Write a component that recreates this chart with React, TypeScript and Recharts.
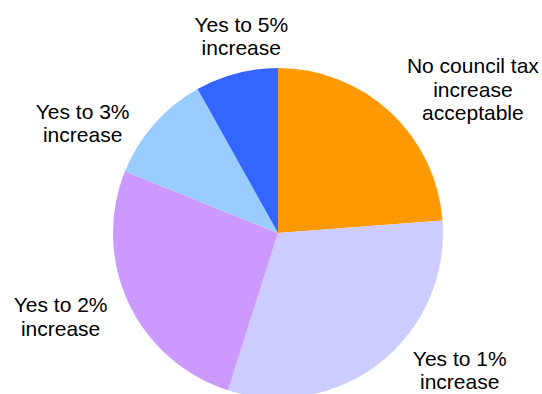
import React from 'react';
import { PieChart, Pie, Cell } from 'recharts';

const categories = [
  'No council tax increase acceptable',
  'Yes to 1% increase',
  'Yes to 2% increase',
  'Yes to 3% increase',
  'Yes to 5% increase',
];
const shares = [23.8, 31.1, 26.2, 10.8, 8.1];
const labelLines = [
  ['No council tax', 'increase', 'acceptable'],
  ['Yes to 1%', 'increase'],
  ['Yes to 2%', 'increase'],
  ['Yes to 3%', 'increase'],
  ['Yes to 5%', 'increase'],
];

const colors = ['#FF9900', '#CCCCFF', '#CC99FF', '#99CCFF', '#3366FF'];
// label placement: angle shift (deg, clockwise) and gap beyond the rim
const labelShift = [10.8, -14.5, 4.1, -12.1, 4];
const labelGap = [77, 63, 68, 59, 35];
const LINE_H = 23.3;

const data = categories.map((name, i) => ({ name, value: shares[i] }));

const RAD = Math.PI / 180;

const renderLabel = (props: any) => {
  const { cx, cy, midAngle, outerRadius, index } = props;
  const angle = midAngle - labelShift[index];
  const r = outerRadius + labelGap[index];
  const x = cx + r * Math.cos(-angle * RAD);
  const y = cy + r * Math.sin(-angle * RAD);
  const lines = labelLines[index];
  const firstBase = y - ((lines.length - 1) * LINE_H) / 2 + 7;
  return (
    <text
      x={x}
      y={firstBase}
      textAnchor="middle"
      fill="#000"
      fontSize={21}
      fontFamily="'Liberation Sans', Arial, sans-serif"
    >
      {lines.map((l, k) => (
        <tspan key={k} x={x} y={firstBase + k * LINE_H}>
          {l}
        </tspan>
      ))}
    </text>
  );
};

export default function App() {
  return (
    <div style={{ position: 'fixed', left: 0, top: 0, width: 542, height: 394, background: '#fff' }}>
      <PieChart width={542} height={394} margin={{ top: 0, right: 0, bottom: 0, left: 0 }}>
        <Pie
          data={data}
          dataKey="value"
          nameKey="name"
          cx={278}
          cy={233}
          outerRadius={165}
          startAngle={90}
          endAngle={-270}
          stroke="none"
          label={renderLabel}
          labelLine={false}
          isAnimationActive={false}
        >
          {data.map((d, i) => (
            <Cell key={d.name} fill={colors[i]} />
          ))}
        </Pie>
      </PieChart>
    </div>
  );
}
